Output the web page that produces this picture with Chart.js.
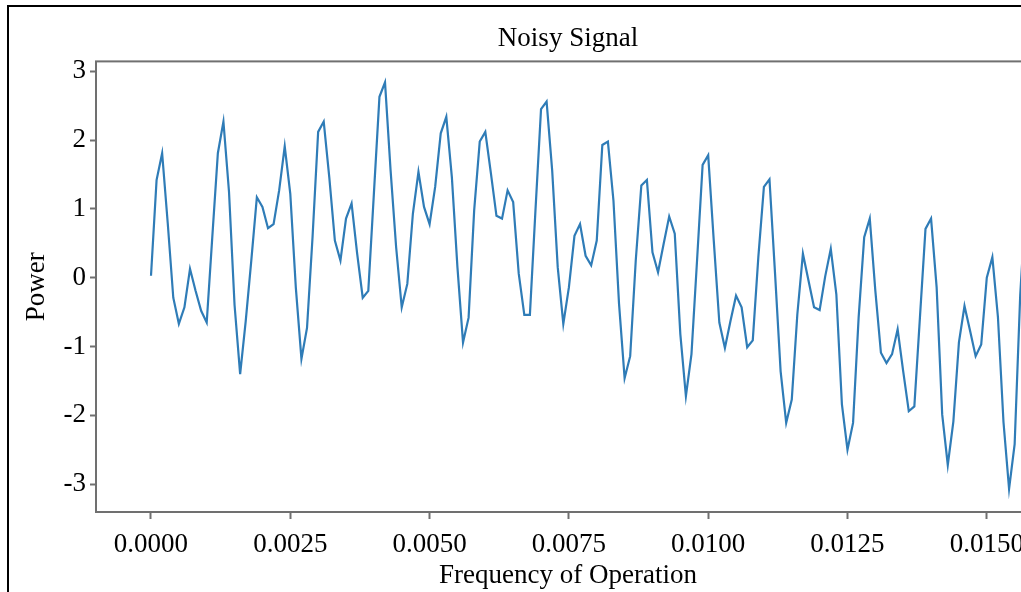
<!DOCTYPE html>
<html>
<head>
<meta charset="utf-8">
<script src="https://cdn.jsdelivr.net/npm/chart.js@4/dist/chart.umd.min.js"></script>
<style>
  html, body { margin: 0; padding: 0; background: #fff; overflow: hidden; width: 1021px; height: 592px; }
  #frame { position: absolute; left: 7px; top: 5px; width: 1200px; height: 700px; border: 2px solid #000; }
  #chart1 { position: absolute; left: 0; top: 0; }
</style>
</head>
<body>
<div id="frame"></div>
<canvas id="chart1" width="1100" height="600"></canvas>
<script>
/** Noisy Signal **/
const freqStep = 0.0001;

const power = [
	0.03, 1.42, 1.81, 0.80, -0.29, -0.67, -0.43, 0.13, -0.19, -0.48,
	-0.65, 0.59, 1.81, 2.27, 1.25, -0.40, -1.40, -0.63, 0.25, 1.17,
	1.03, 0.72, 0.78, 1.27, 1.91, 1.22, -0.15, -1.18, -0.73, 0.60,
	2.12, 2.27, 1.46, 0.54, 0.25, 0.86, 1.08, 0.35, -0.29, -0.19,
	1.22, 2.63, 2.84, 1.56, 0.44, -0.43, -0.09, 0.93, 1.54, 1.03,
	0.78, 1.32, 2.10, 2.34, 1.46, 0.15, -0.94, -0.58, 0.98, 1.98,
	2.12, 1.52, 0.90, 0.86, 1.27, 1.10, 0.06, -0.54, -0.54, 0.98,
	2.45, 2.56, 1.56, 0.15, -0.67, -0.14, 0.61, 0.78, 0.32, 0.18,
	0.54, 1.93, 1.98, 1.12, -0.38, -1.46, -1.14, 0.25, 1.34, 1.42,
	0.37, 0.08, 0.49, 0.89, 0.64, -0.82, -1.72, -1.11, 0.25, 1.64,
	1.78, 0.54, -0.65, -1.02, -0.63, -0.26, -0.43, -1.01, -0.91, 0.30,
	1.32, 1.43, 0.06, -1.36, -2.11, -1.77, -0.53, 0.35, -0.04, -0.43,
	-0.47, 0.02, 0.42, -0.24, -1.84, -2.50, -2.11, -0.58, 0.59, 0.86,
	-0.19, -1.09, -1.24, -1.11, -0.75, -1.36, -1.94, -1.87, -0.58, 0.71,
	0.86, -0.14, -1.99, -2.72, -2.09, -0.94, -0.41, -0.77, -1.14, -0.97,
	0.00, 0.30, -0.57, -2.10, -3.07, -2.42, -0.25, 1.10
];

const frequency = power.map((p, i) => +(i * freqStep).toFixed(4));

const xTickValues = [0, 0.0025, 0.005, 0.0075, 0.01, 0.0125, 0.015];
const xTickLabels = ['0.0000', '0.0025', '0.0050', '0.0075', '0.0100', '0.0125', '0.0150'];
const yTickValues = [-3, -2, -1, 0, 1, 2, 3];
const yTickLabels = ['-3', '-2', '-1', '0', '1', '2', '3'];

const serif = 'Liberation Serif';

// box around the plot area
const frameBox = {
	id: 'frameBox',
	afterDraw(chart) {
		const a = chart.chartArea;
		const ctx = chart.ctx;
		ctx.save();
		ctx.strokeStyle = '#707070';
		ctx.lineWidth = 2;
		ctx.strokeRect(a.left, a.top, a.right - a.left, a.bottom - a.top);
		ctx.restore();
	}
};

const data1 = {
	datasets: [{
		label: 'Power',
		data: frequency.map((f, i) => ({x: f, y: power[i]})),
		borderColor: '#2f7cb7',
		borderWidth: 2.2,
		pointRadius: 0,
		tension: 0,
		fill: false
	}]
};

const config1 = {
	type: 'line',
	data: data1,
	plugins: [frameBox],
	options: {
		responsive: false,
		animation: false,
		layout: { padding: { left: 0, top: 0, right: 60, bottom: 0 } },
		plugins: {
			legend: false,
			tooltip: { enabled: false },
			title: {
				display: true,
				fullSize: false,
				text: 'Noisy Signal',
				color: '#000',
				font: { family: serif, size: 27, weight: 'normal' },
				padding: { top: 23, bottom: 6 }
			}
		},
		scales: {
			x: {
				type: 'linear',
				min: -0.000987,
				max: 0.015955,
				afterFit: (scale) => { scale.height = 88; },
				afterBuildTicks: (scale) => { scale.ticks = xTickValues.map(v => ({value: v})); },
				border: { display: false },
				grid: { drawOnChartArea: false, drawTicks: true, tickLength: 7, color: '#707070', tickWidth: 2 },
				ticks: {
					color: '#000',
					padding: 10,
					maxRotation: 0,
					font: { family: serif, size: 27 },
					callback: (v, i) => xTickLabels[i]
				},
				title: {
					display: true,
					text: 'Frequency of Operation',
					color: '#000',
					font: { family: serif, size: 27 },
					padding: { top: 0, bottom: 8 }
				}
			},
			y: {
				min: -3.405,
				max: 3.145,
				afterFit: (scale) => { scale.width = 96; },
				afterBuildTicks: (scale) => { scale.ticks = yTickValues.map(v => ({value: v})); },
				border: { display: false },
				grid: { drawOnChartArea: false, drawTicks: true, tickLength: 6, color: '#707070', tickWidth: 2 },
				ticks: {
					color: '#000',
					padding: 4,
					font: { family: serif, size: 27 },
					callback: (v, i) => yTickLabels[i]
				},
				title: {
					display: true,
					text: 'Power',
					color: '#000',
					font: { family: serif, size: 27 },
					padding: { top: 21, bottom: 0 }
				}
			}
		}
	}
};

const chart1 = new Chart(
	document.getElementById('chart1'),
	config1
);
</script>
</body>
</html>
